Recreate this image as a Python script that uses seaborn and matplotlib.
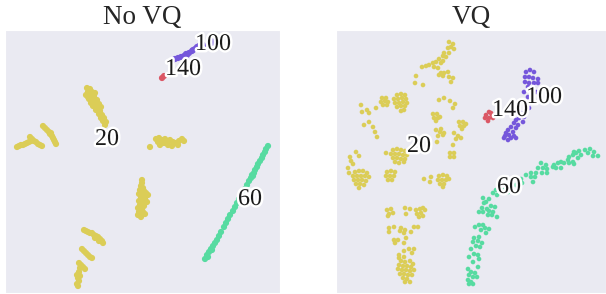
import matplotlib.pyplot as plt
import matplotlib.patheffects as pe
import pandas as pd
import seaborn as sns

# embedding coordinates (arbitrary t-SNE units, y grows downward)
novq_20 = [
    (87, 88), (90, 89), (88, 92), (92, 92), (95, 93), (86, 95), (90, 95), (94, 96), (88, 97),
    (89, 99), (93, 99), (97, 100), (91, 103), (95, 103), (99, 104), (93, 106), (97, 107),
    (101, 107), (96, 110), (100, 111), (99, 114), (102, 115), (101, 118), (104, 118),
    (103, 121), (106, 122), (105, 125),
    (17, 147), (19, 146), (21, 145), (23, 145), (25, 144), (27, 143), (29, 142), (31, 141),
    (30, 137), (32, 139), (34, 141), (36, 142), (38, 144), (40, 145), (42, 146),
    (43, 126), (45, 128), (47, 130), (49, 132), (51, 133), (50, 134), (52, 136), (53, 138),
    (54, 140), (55, 142), (56, 144),
    (150, 147), (156, 139), (159, 138), (162, 140), (158, 142), (164, 143), (167, 141),
    (170, 140), (173, 142), (168, 145), (176, 143), (179, 141), (182, 139), (172, 146),
    (160, 145), (165, 139), (178, 145), (184, 141),
    (142, 180), (142, 183), (141, 186), (143, 188), (140, 190), (144, 191), (146, 193),
    (139, 194), (142, 195), (148, 195), (141, 198), (145, 198), (139, 201), (143, 202),
    (147, 202), (140, 205), (144, 206), (138, 208), (142, 209), (139, 212), (143, 212),
    (138, 215), (145, 214), (141, 217),
    (84, 230), (86, 231), (88, 232), (90, 233), (92, 233), (94, 235), (96, 236), (98, 237),
    (100, 239), (102, 241), (95, 238), (99, 241), (103, 243),
    (82, 249), (84, 251), (86, 253), (88, 255), (90, 257), (92, 258),
    (79, 263), (81, 265), (83, 267), (85, 269), (80, 268),
    (79, 272), (77, 275), (80, 276), (78, 278), (79, 281), (77, 284), (78, 286),
]
novq_60 = [
    (268, 146), (266, 149), (265, 152), (263, 155), (262, 158), (260, 161), (258, 164),
    (257, 167), (255, 170), (254, 173), (252, 175), (253, 176), (251, 178), (249, 181),
    (247, 185), (245, 189), (242, 194), (239, 199), (237, 203), (235, 207), (233, 211),
    (230, 215), (228, 219), (226, 223), (224, 227), (221, 232), (219, 236), (217, 240),
    (215, 243), (213, 246), (212, 250), (211, 249), (209, 252), (207, 255), (208, 257),
    (205, 259),
]
novq_100 = [
    (172, 61), (175, 59), (178, 58), (181, 57), (184, 56), (186, 54), (187, 55), (189, 53),
    (192, 51), (193, 50), (195, 49), (197, 47), (199, 46), (203, 45), (211, 44), (212, 41),
]
novq_140 = [(162, 78), (164, 76)]

vq_20 = [
    (449, 42), (453, 44), (451, 47), (448, 48), (454, 49), (444, 53), (449, 53), (443, 56),
    (446, 57), (439, 59), (443, 61), (436, 62), (441, 63), (433, 63), (429, 65), (434, 67),
    (426, 66), (422, 67), (438, 68), (441, 73), (444, 73), (439, 75), (443, 76), (449, 77),
    (453, 78), (451, 82), (448, 72), (416, 76), (415, 83), (423, 85),
    (382, 98), (386, 98), (381, 102), (385, 101), (388, 102), (383, 105), (387, 105),
    (361, 105), (362, 112), (367, 110), (369, 113), (376, 108), (369, 122), (364, 125),
    (373, 127), (375, 132), (377, 137),
    (397, 95), (401, 94), (405, 95), (394, 99), (398, 99), (402, 98), (406, 99), (395, 103),
    (399, 103), (403, 102), (407, 103), (397, 107), (401, 106), (405, 106), (401, 111),
    (404, 110),
    (439, 100), (444, 98), (450, 101), (455, 104), (453, 108),
    (433, 114), (437, 114), (434, 118), (438, 118), (436, 121), (440, 117),
    (459, 122), (463, 122), (460, 126), (464, 126), (462, 129), (466, 124),
    (436, 130), (441, 129), (444, 133), (438, 136), (443, 135), (437, 142), (440, 132),
    (454, 133), (458, 136), (461, 138), (456, 139), (453, 145),
    (450, 153), (454, 153), (450, 157), (454, 157),
    (356, 152), (359, 156), (350, 157), (351, 161), (353, 164), (348, 168), (349, 173),
    (393, 150), (397, 149), (401, 150), (405, 151), (391, 154), (395, 154), (399, 154),
    (403, 155), (407, 155), (393, 158), (397, 158), (401, 159), (405, 159), (395, 162),
    (399, 163), (404, 162), (386, 153),
    (355, 172), (359, 171), (363, 171), (367, 173), (353, 176), (357, 176), (361, 176),
    (365, 176), (369, 177), (354, 180), (358, 180), (362, 180), (366, 181), (356, 184),
    (360, 184), (364, 185), (359, 188),
    (387, 172), (391, 171), (395, 172), (386, 176), (390, 176), (394, 176), (388, 180),
    (392, 180),
    (424, 179), (431, 177), (430, 182),
    (439, 176), (443, 175), (447, 176), (438, 180), (442, 180), (446, 180), (449, 179),
    (440, 184), (444, 184), (443, 187),
    (387, 210), (391, 209), (389, 214), (393, 213), (388, 216),
    (405, 208), (410, 209), (406, 214),
    (416, 210), (420, 209), (417, 214), (421, 213), (419, 217), (423, 216), (423, 208),
    (425, 210),
    (389, 228), (394, 227), (389, 232), (401, 228), (400, 231), (405, 230), (404, 233),
    (411, 232), (414, 227), (418, 227),
    (394, 240), (398, 240), (395, 243), (406, 238), (404, 243),
    (409, 249), (414, 249), (412, 253), (404, 251), (399, 255), (399, 258), (404, 257),
    (401, 261), (405, 262), (410, 261), (413, 264), (399, 265), (403, 266), (407, 266),
    (411, 267), (398, 269), (402, 270), (406, 270), (410, 271), (414, 270), (400, 274),
    (404, 274), (408, 275), (412, 275), (403, 278), (407, 279), (410, 282), (405, 282),
]
vq_60 = [
    (590, 149), (594, 152), (598, 156), (593, 156), (588, 153), (585, 150), (579, 151),
    (576, 153), (574, 152), (573, 155), (581, 155), (578, 158), (569, 157), (568, 160),
    (573, 162), (569, 163), (574, 164), (564, 163), (561, 162), (558, 163), (554, 165),
    (553, 167), (556, 168), (561, 168), (546, 165), (541, 163), (543, 168), (547, 169),
    (542, 173), (547, 173), (538, 168), (536, 173), (531, 173), (535, 177), (531, 177),
    (533, 182), (526, 175), (521, 179), (522, 183), (516, 185), (506, 182), (501, 185),
    (503, 190), (496, 190), (493, 193), (497, 195), (508, 192),
    (483, 198), (486, 202), (489, 199), (484, 203), (491, 206), (495, 207), (482, 208),
    (487, 209), (479, 212), (483, 212), (489, 211), (493, 212), (488, 215), (492, 215),
    (497, 217), (479, 225), (475, 227), (483, 225), (481, 230), (485, 228), (489, 229),
    (486, 233), (479, 237), (474, 238), (478, 241), (473, 242), (482, 243), (476, 246),
    (480, 247), (471, 249), (474, 254), (478, 255), (469, 257), (479, 259), (473, 262),
    (478, 267), (468, 269), (471, 272), (475, 273), (469, 275), (473, 277), (477, 277),
    (468, 280), (471, 282), (469, 284), (473, 284),
]
vq_100 = [
    (526, 72), (530, 70), (534, 72), (525, 77), (529, 77), (533, 78), (538, 79), (525, 82),
    (529, 83), (534, 83), (538, 83), (528, 87), (533, 87), (524, 92), (536, 92), (528, 97),
    (525, 102), (530, 103), (529, 108), (526, 112), (521, 113), (524, 117), (519, 118),
    (516, 120), (523, 122), (518, 125), (514, 123), (511, 127), (516, 128), (508, 130),
    (513, 132), (506, 133), (509, 135), (514, 136), (504, 138), (511, 138), (508, 140),
    (516, 138), (505, 136),
]
vq_140 = [(489, 112), (486, 115), (492, 115), (489, 118), (485, 118), (493, 118), (488, 121), (491, 113)]

digits = [20, 60, 100, 140]
novq_label_pos = {20: (95, 145), 60: (238, 205), 100: (195, 50), 140: (165, 75)}
vq_label_pos = {20: (407, 152), 60: (497, 193), 100: (526, 103), 140: (492, 116)}

# title, clusters, label anchors, x range, dot size
panels = [
    ("No VQ", [novq_20, novq_60, novq_100, novq_140], novq_label_pos, (5, 280), 20),
    ("VQ", [vq_20, vq_60, vq_100, vq_140], vq_label_pos, (336, 606), 11),
]

sns.set_style("dark")
plt.rcParams['font.family'] = ['Liberation Serif', 'DejaVu Serif']

hls = sns.color_palette("hls", 144)
pal = {d: hls[d] for d in digits}

fig = plt.figure(figsize=(6.06, 2.94), dpi=100)
axes = [fig.add_axes([5 / 606, 1 / 294, 275 / 606, 263 / 294]),
        fig.add_axes([336 / 606, 1 / 294, 270 / 606, 263 / 294])]

for ax, (title, clusters, label_pos, xlim, size) in zip(axes, panels):
    rows = []
    for d, pts in zip(digits, clusters):
        for x, y in pts:
            rows.append({"x": x, "y": y, "digit": d})
    df = pd.DataFrame(rows)
    sns.scatterplot(data=df, x="x", y="y", hue="digit", palette=pal, s=size,
                    linewidth=0, legend=False, ax=ax)
    for d in digits:
        tx, ty = label_pos[d]
        txt = ax.text(tx, ty, str(d), fontsize=17.3, ha="left", va="baseline", color="#1a1a1a")
        txt.set_path_effects([pe.Stroke(linewidth=3.5, foreground="w"), pe.Normal()])
    ax.set_xlim(*xlim)
    ax.set_ylim(293, 30)
    ax.set(xlabel="", ylabel="", xticks=[], yticks=[])
    ax.set_title(title, fontsize=19.5, pad=4.3)

fig.savefig("out.png", dpi=100)
